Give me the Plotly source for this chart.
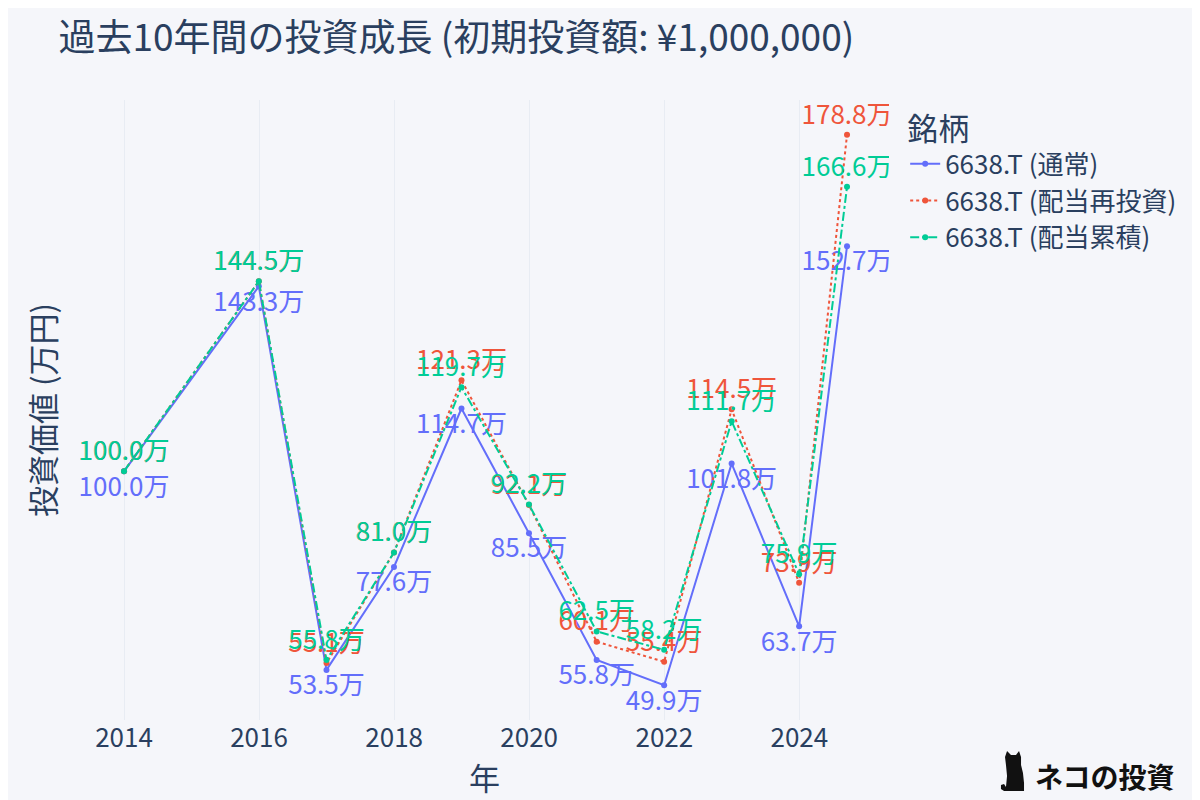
import plotly.graph_objects as go

dates = ["2014-01-01", "2015-12-31", "2016-12-31", "2017-12-31", "2018-12-31",
         "2019-12-31", "2020-12-31", "2021-12-31", "2022-12-31", "2023-12-31", "2024-09-15"]
normal = [100.0, 143.3, 53.5, 77.6, 114.7, 85.5, 55.8, 49.9, 101.8, 63.7, 152.7]
reinvest = [100.0, 144.5, 55.1, 81.0, 121.3, 92.1, 60.1, 55.4, 114.5, 73.9, 178.8]
accum = [100.0, 144.5, 55.8, 81.0, 119.7, 92.2, 62.5, 58.2, 111.7, 75.9, 166.6]

names = ["6638.T (通常)", "6638.T (配当再投資)", "6638.T (配当累積)"]
colors = ["#636EFA", "#EF553B", "#00CC96"]
dashes = ["solid", "dot", "dashdot"]
positions = ["bottom center", "top center", "top center"]

FONT = "Noto Sans CJK JP"
W, H = 1200, 800
L, R, T, B = 72, 319, 92, 88


def px(x, y):
    # pixel -> paper coords (for the logo only)
    return (x - L) / (W - L - R), (H - B - y) / (H - T - B)


fig = go.Figure()
for vals, name, col, dash, pos in zip([normal, reinvest, accum], names, colors, dashes, positions):
    fig.add_trace(go.Scatter(
        x=dates, y=vals, name=name, mode="lines+markers+text",
        line=dict(color=col, dash=dash, width=2),
        marker=dict(color=col, size=6),
        text=[f"{v:.1f}万" for v in vals], textposition=pos,
        textfont=dict(color=col, size=26),
    ))

fig.update_layout(
    template="plotly_white",
    width=W, height=H,
    paper_bgcolor="#F5F6FA", plot_bgcolor="#F5F6FA",
    font=dict(family=FONT, size=26, color="#2A3F5F"),
    title=dict(text="過去10年間の投資成長 (初期投資額: ¥1,000,000)", font=dict(size=37),
               x=0.042, y=0.963, yanchor="middle"),
    legend=dict(title=dict(text="銘柄")),
    margin=dict(t=T, b=B, l=L, r=R),
)
fig.update_xaxes(title_text="年", showgrid=True, gridcolor="#E8ECF3", dtick="M24", tick0="2014-01-01",
                 range=["2013-05-08", "2025-04-30"], automargin=False)
fig.update_yaxes(title_text="投資価値 (万円)", title_standoff=14, automargin=False,
                 showticklabels=False, showgrid=False, zeroline=False)

# logo: cat silhouette + text
cat = [(6, 14), (5, 6), (7, 0), (11, 4), (16, 4), (19, 0), (21, 6), (21, 14), (23, 22), (24, 32),
       (24, 40), (4, 40), (1, 38), (1, 34), (4, 33), (6, 36), (7, 25)]
path = ""
for i, (cx, cy) in enumerate(cat):
    x, y = px(992 + cx, 743 + cy)
    path += ("M" if i == 0 else "L") + f"{x:.4f},{y:.4f} "
fig.add_shape(type="path", path=path + "Z", xref="paper", yref="paper",
              fillcolor="#111111", line=dict(width=0))
lx, ly = px(1025, 768)
fig.add_annotation(text="<b>ネコの投資</b>", xref="paper", yref="paper", x=lx, y=ly,
                   xanchor="left", yanchor="middle", showarrow=False,
                   font=dict(family=FONT, size=28, color="#111111"))

fig.write_html("out.html")
